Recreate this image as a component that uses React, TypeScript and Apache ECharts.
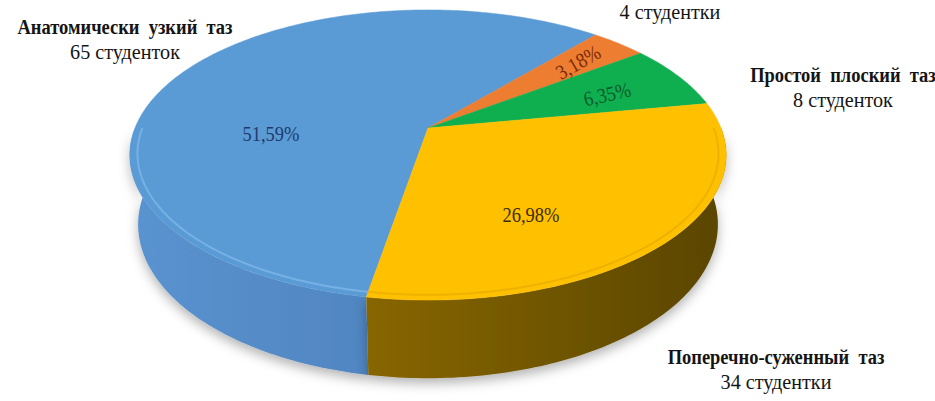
import React, { useEffect, useRef } from "react";
import * as echarts from "echarts";

// ---- data ----
const categories = [
  "Анатомически узкий таз",
  "Общеравномерносуженный таз",
  "Простой плоский таз",
  "Поперечно-суженный таз",
];
const counts = [65, 4, 8, 34];
const countLabels = ["65 студенток", "4 студентки", "8 студенток", "34 студентки"];
const percentLabels = ["51,59%", "3,18%", "6,35%", "26,98%"];

// ---- styles / layout ----
const FONT = "Liberation Serif";
const topColors = ["#5b9bd5", "#ed7d31", "#0faf50", "#ffc000"];
const wallLight = ["#5a93d0", "#c9651f", "#0a9040", "#a57c00"];
const wallDark = ["#4172aa", "#9a4b12", "#076b30", "#5a4500"];
const edgeColors = ["#8cc2f2", "#f59a5c", "#3cc874", "#e2a600"];
const pctColors = ["#1f3a6b", "#7a2a05", "#0b5a2a", "#3d2c00"];
const pctPos: [number, number, number][] = [
  [271, 134, 0],
  [578, 62, 30],
  [607, 94, 13],
  [531, 215, 0],
];
// centre of the first label line; false = title line lies above the picture
const namePos: [number, number, boolean][] = [
  [125, 27, true],
  [670, -13, false],
  [843, 75, true],
  [776, 357, true],
];

const CX = 428;
const CY = 128;
const F = 1383;
const D = 4.72;
const SINP = 0.478;
const COSP = Math.sqrt(1 - SINP * SINP);
const T = 0.274;
const START = 260.1;

function proj(thetaDeg: number, r: number, h: number): [number, number] {
  const th = (thetaDeg * Math.PI) / 180;
  const u = r * Math.cos(th);
  const v = -r * Math.sin(th);
  const depth = D - h * SINP - v * COSP;
  const up = h * COSP - v * SINP;
  return [CX + (F * u) / depth, CY - (F * up) / depth];
}

function arc(a: number, b: number, r: number, h: number): [number, number][] {
  const n = Math.max(2, Math.ceil(Math.abs(b - a)));
  const pts: [number, number][] = [];
  for (let i = 0; i <= n; i++) pts.push(proj(a + ((b - a) * i) / n, r, h));
  return pts;
}

function textStyle(text: string, size: number, weight: string, fill: string) {
  return {
    text,
    font: `${weight} ${size}px ${FONT}`,
    fill,
    align: "center",
    verticalAlign: "middle",
    textAlign: "center",
    textVerticalAlign: "middle",
  };
}

export default function App() {
  const ref = useRef<HTMLDivElement>(null);
  useEffect(() => {
    if (!ref.current) return;
    const chart = echarts.init(ref.current, undefined, { renderer: "svg" });
    const total = counts.reduce((s, v) => s + v, 0);
    const cum: number[] = [];
    let acc = 0;
    counts.forEach((v) => {
      cum.push(acc);
      acc += v;
    });

    const renderItem = (params: any, api: any) => {
      const i = params.dataIndex;
      const v = api.value(0);
      const a0 = START - (cum[i] / total) * 360;
      const a1 = a0 - (v / total) * 360;
      const lo = Math.min(a0, a1);
      const hi = Math.max(a0, a1);
      const children: any[] = [];
      for (let k = -1; k <= 1; k++) {
        const s = Math.max(lo, 180 + 360 * k);
        const e = Math.min(hi, 360 + 360 * k);
        if (e - s > 0.01) {
          const topArc = arc(s, e, 1, 0);
          const botArc = arc(e, s, 1, -T);
          children.push({
            type: "polygon",
            z2: 10,
            shape: { points: topArc.concat(botArc) },
            style: {
              fill: new echarts.graphic.LinearGradient(
                130,
                0,
                726,
                0,
                [
                  { offset: 0, color: wallLight[i] },
                  { offset: 1, color: wallDark[i] },
                ],
                true
              ),
              shadowBlur: 12,
              shadowColor: "rgba(0,0,0,0.3)",
              shadowOffsetY: 5,
            },
          });
          children.push({
            type: "polyline",
            z2: 30,
            shape: { points: arc(s, e, 0.975, 0) },
            style: { stroke: edgeColors[i], lineWidth: 2, fill: null, opacity: 0.55 },
          });
        }
      }
      const pts = [proj(0, 0, 0)].concat(arc(a0, a1, 1, 0));
      children.push({
        type: "polygon",
        z2: 20,
        shape: { points: pts },
        style: { fill: topColors[i], stroke: topColors[i], lineWidth: 0.5 },
      });
      const p = pctPos[i];
      children.push({
        type: "text",
        z2: 50,
        x: p[0],
        y: p[1],
        rotation: (p[2] * Math.PI) / 180,
        scaleX: 0.88,
        style: textStyle(percentLabels[i], 21, "normal", pctColors[i]),
      });
      return { type: "group", children };
    };

    const graphics: any[] = [];
    categories.forEach((name, i) => {
      const [x, y, visible] = namePos[i];
      if (visible) {
        graphics.push({
          type: "text",
          x,
          y,
          scaleX: 0.88,
          style: textStyle(name.replace(/ /g, "  "), 21, "bold", "#141414"),
        });
      }
      graphics.push({
        type: "text",
        x,
        y: y + 25,
        scaleX: 0.96,
        style: textStyle(countLabels[i], 21, "normal", "#141414"),
      });
    });

    chart.setOption({
      animation: false,
      backgroundColor: "#ffffff",
      graphic: graphics,
      series: [
        {
          type: "custom",
          coordinateSystem: "none",
          silent: true,
          renderItem,
          data: counts.map((v, i) => [v, i]),
        },
      ],
    });
    return () => chart.dispose();
  }, []);
  return (
    <div
      ref={ref}
      style={{ position: "absolute", left: 0, top: 0, width: 935, height: 401 }}
    />
  );
}
